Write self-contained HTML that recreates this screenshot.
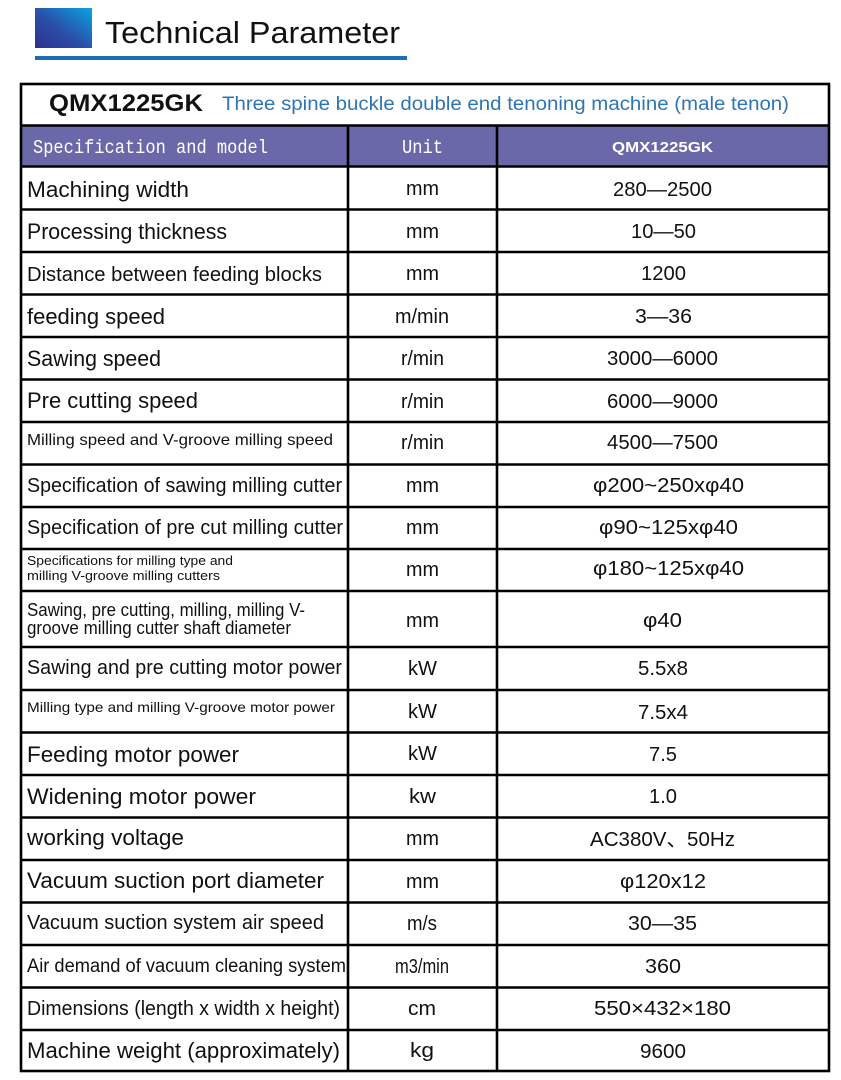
<!DOCTYPE html>
<html>
<head>
<meta charset="utf-8">
<style>
html,body{margin:0;padding:0;background:#fff;}
svg{display:block;}
text{font-family:"Liberation Sans","Noto Sans CJK SC",sans-serif;fill:#111;}
.l{font-size:22px;}
.u{font-size:20px;}
.v{font-size:20px;}
.mono{font-family:"Liberation Mono","Noto Sans CJK SC",monospace;fill:#fff;font-size:19px;}
</style>
</head>
<body>
<svg width="841" height="1080" viewBox="0 0 841 1080" xmlns="http://www.w3.org/2000/svg">
<defs>
<linearGradient id="g" x1="0" y1="1" x2="1" y2="0">
<stop offset="0" stop-color="#2e2f8e"/>
<stop offset="0.45" stop-color="#2a4fa8"/>
<stop offset="1" stop-color="#0aa2e3"/>
</linearGradient>
</defs>
<rect x="0" y="0" width="841" height="1080" fill="#fff"/>
<!-- Title -->
<rect x="35" y="8" width="57" height="40" fill="url(#g)"/>
<text x="105" y="43" font-size="31" textLength="295" lengthAdjust="spacingAndGlyphs">Technical Parameter</text>
<rect x="35" y="56" width="372" height="4" fill="#1b6fb6"/>

<!-- header fill -->
<rect x="21" y="125.5" width="808" height="41" fill="#6b68a9"/>

<!-- table lines -->
<g stroke="#000" stroke-width="2.6" fill="none">
<rect x="21" y="84" width="808" height="987"/>
<line x1="21" y1="125.5" x2="829" y2="125.5"/>
<line x1="21" y1="166.5" x2="829" y2="166.5"/>
<line x1="21" y1="209.5" x2="829" y2="209.5"/>
<line x1="21" y1="252" x2="829" y2="252"/>
<line x1="21" y1="294.5" x2="829" y2="294.5"/>
<line x1="21" y1="337" x2="829" y2="337"/>
<line x1="21" y1="379.5" x2="829" y2="379.5"/>
<line x1="21" y1="422" x2="829" y2="422"/>
<line x1="21" y1="464.5" x2="829" y2="464.5"/>
<line x1="21" y1="507" x2="829" y2="507"/>
<line x1="21" y1="549" x2="829" y2="549"/>
<line x1="21" y1="591" x2="829" y2="591"/>
<line x1="21" y1="647" x2="829" y2="647"/>
<line x1="21" y1="690" x2="829" y2="690"/>
<line x1="21" y1="732.5" x2="829" y2="732.5"/>
<line x1="21" y1="775" x2="829" y2="775"/>
<line x1="21" y1="817.5" x2="829" y2="817.5"/>
<line x1="21" y1="860" x2="829" y2="860"/>
<line x1="21" y1="902.5" x2="829" y2="902.5"/>
<line x1="21" y1="945" x2="829" y2="945"/>
<line x1="21" y1="987.5" x2="829" y2="987.5"/>
<line x1="21" y1="1030" x2="829" y2="1030"/>
<line x1="348" y1="125.5" x2="348" y2="1071"/>
<line x1="497" y1="125.5" x2="497" y2="1071"/>
</g>

<!-- title row -->
<text x="49" y="111" font-size="24" font-weight="bold" textLength="154" lengthAdjust="spacingAndGlyphs">QMX1225GK</text>
<text x="222" y="110" font-size="19" style="fill:#2f75b5" textLength="567" lengthAdjust="spacingAndGlyphs">Three spine buckle double end tenoning machine (male tenon)</text>

<!-- header -->
<text class="mono" x="33" y="153" textLength="235" lengthAdjust="spacingAndGlyphs">Specification and model</text>
<text class="mono" x="402" y="153" textLength="41" lengthAdjust="spacingAndGlyphs">Unit</text>
<text x="612" y="152" font-size="15" font-weight="bold" style="fill:#fff" textLength="101" lengthAdjust="spacingAndGlyphs">QMX1225GK</text>

<!-- left column -->
<text class="l" x="27" y="197" textLength="162" lengthAdjust="spacingAndGlyphs">Machining width</text>
<text class="l" x="27" y="239" textLength="200" lengthAdjust="spacingAndGlyphs">Processing thickness</text>
<text x="27" y="281" font-size="20" textLength="295" lengthAdjust="spacingAndGlyphs">Distance between feeding blocks</text>
<text class="l" x="27" y="324" textLength="138" lengthAdjust="spacingAndGlyphs">feeding speed</text>
<text class="l" x="27" y="366" textLength="134" lengthAdjust="spacingAndGlyphs">Sawing speed</text>
<text class="l" x="27" y="408" textLength="171" lengthAdjust="spacingAndGlyphs">Pre cutting speed</text>
<text x="27" y="445" font-size="16" textLength="306" lengthAdjust="spacingAndGlyphs">Milling speed and V-groove milling speed</text>
<text x="27" y="492" font-size="20" textLength="315" lengthAdjust="spacingAndGlyphs">Specification of sawing milling cutter</text>
<text x="27" y="534" font-size="20" textLength="316" lengthAdjust="spacingAndGlyphs">Specification of pre cut milling cutter</text>
<text x="27" y="565" font-size="13" textLength="206" lengthAdjust="spacingAndGlyphs">Specifications for milling type and</text>
<text x="27" y="580" font-size="13" textLength="193" lengthAdjust="spacingAndGlyphs">milling V-groove milling cutters</text>
<text x="27" y="616" font-size="18" textLength="278" lengthAdjust="spacingAndGlyphs">Sawing, pre cutting, milling, milling V-</text>
<text x="27" y="634" font-size="18" textLength="264" lengthAdjust="spacingAndGlyphs">groove milling cutter shaft diameter</text>
<text x="27" y="674" font-size="20" textLength="315" lengthAdjust="spacingAndGlyphs">Sawing and pre cutting motor power</text>
<text x="27" y="712" font-size="14" textLength="308" lengthAdjust="spacingAndGlyphs">Milling type and milling V-groove motor power</text>
<text class="l" x="27" y="762" textLength="212" lengthAdjust="spacingAndGlyphs">Feeding motor power</text>
<text class="l" x="27" y="804" textLength="229" lengthAdjust="spacingAndGlyphs">Widening motor power</text>
<text class="l" x="27" y="845" textLength="157" lengthAdjust="spacingAndGlyphs">working voltage</text>
<text class="l" x="27" y="888" textLength="297" lengthAdjust="spacingAndGlyphs">Vacuum suction port diameter</text>
<text x="27" y="929" font-size="20" textLength="297" lengthAdjust="spacingAndGlyphs">Vacuum suction system air speed</text>
<text x="27" y="972" font-size="19" textLength="319" lengthAdjust="spacingAndGlyphs">Air demand of vacuum cleaning system</text>
<text x="27" y="1015" font-size="20" textLength="313" lengthAdjust="spacingAndGlyphs">Dimensions (length x width x height)</text>
<text class="l" x="27" y="1058" textLength="313" lengthAdjust="spacingAndGlyphs">Machine weight (approximately)</text>

<!-- units -->
<text class="u" x="406" y="195" textLength="33" lengthAdjust="spacingAndGlyphs">mm</text>
<text class="u" x="406" y="238" textLength="33" lengthAdjust="spacingAndGlyphs">mm</text>
<text class="u" x="406" y="280" textLength="33" lengthAdjust="spacingAndGlyphs">mm</text>
<text class="u" x="395" y="323" textLength="54" lengthAdjust="spacingAndGlyphs">m/min</text>
<text class="u" x="401" y="365" textLength="43" lengthAdjust="spacingAndGlyphs">r/min</text>
<text class="u" x="401" y="408" textLength="43" lengthAdjust="spacingAndGlyphs">r/min</text>
<text class="u" x="401" y="449" textLength="43" lengthAdjust="spacingAndGlyphs">r/min</text>
<text class="u" x="406" y="492" textLength="33" lengthAdjust="spacingAndGlyphs">mm</text>
<text class="u" x="406" y="534" textLength="33" lengthAdjust="spacingAndGlyphs">mm</text>
<text class="u" x="406" y="576" textLength="33" lengthAdjust="spacingAndGlyphs">mm</text>
<text class="u" x="406" y="627" textLength="33" lengthAdjust="spacingAndGlyphs">mm</text>
<text class="u" x="408" y="675" textLength="29" lengthAdjust="spacingAndGlyphs">kW</text>
<text class="u" x="408" y="718" textLength="29" lengthAdjust="spacingAndGlyphs">kW</text>
<text class="u" x="408" y="760" textLength="29" lengthAdjust="spacingAndGlyphs">kW</text>
<text class="u" x="409" y="803" textLength="27" lengthAdjust="spacingAndGlyphs">kw</text>
<text class="u" x="406" y="845" textLength="33" lengthAdjust="spacingAndGlyphs">mm</text>
<text class="u" x="406" y="888" textLength="33" lengthAdjust="spacingAndGlyphs">mm</text>
<text class="u" x="407" y="930" textLength="30" lengthAdjust="spacingAndGlyphs">m/s</text>
<text class="u" x="395" y="973" textLength="54" lengthAdjust="spacingAndGlyphs">m3/min</text>
<text class="u" x="408" y="1015" textLength="28" lengthAdjust="spacingAndGlyphs">cm</text>
<text class="u" x="410" y="1057" textLength="24" lengthAdjust="spacingAndGlyphs">kg</text>

<!-- values -->
<text class="v" x="613" y="196" textLength="99" lengthAdjust="spacingAndGlyphs">280—2500</text>
<text class="v" x="631" y="238" textLength="65" lengthAdjust="spacingAndGlyphs">10—50</text>
<text class="v" x="641" y="280" textLength="45" lengthAdjust="spacingAndGlyphs">1200</text>
<text class="v" x="635" y="323" textLength="57" lengthAdjust="spacingAndGlyphs">3—36</text>
<text class="v" x="607" y="365" textLength="111" lengthAdjust="spacingAndGlyphs">3000—6000</text>
<text class="v" x="607" y="408" textLength="111" lengthAdjust="spacingAndGlyphs">6000—9000</text>
<text class="v" x="607" y="449" textLength="111" lengthAdjust="spacingAndGlyphs">4500—7500</text>
<text class="v" x="593" y="492" textLength="151" lengthAdjust="spacingAndGlyphs">φ200~250xφ40</text>
<text class="v" x="599" y="534" textLength="139" lengthAdjust="spacingAndGlyphs">φ90~125xφ40</text>
<text class="v" x="593" y="575" textLength="151" lengthAdjust="spacingAndGlyphs">φ180~125xφ40</text>
<text class="v" x="643" y="627" textLength="39" lengthAdjust="spacingAndGlyphs">φ40</text>
<text class="v" x="638" y="675" textLength="50" lengthAdjust="spacingAndGlyphs">5.5x8</text>
<text class="v" x="638" y="719" textLength="50" lengthAdjust="spacingAndGlyphs">7.5x4</text>
<text class="v" x="649" y="761" textLength="28" lengthAdjust="spacingAndGlyphs">7.5</text>
<text class="v" x="649" y="803" textLength="28" lengthAdjust="spacingAndGlyphs">1.0</text>
<text class="v" x="590" y="846" textLength="145" lengthAdjust="spacingAndGlyphs">AC380V、50Hz</text>
<text class="v" x="620" y="888" textLength="86" lengthAdjust="spacingAndGlyphs">φ120x12</text>
<text class="v" x="628" y="930" textLength="69" lengthAdjust="spacingAndGlyphs">30—35</text>
<text class="v" x="645" y="973" textLength="36" lengthAdjust="spacingAndGlyphs">360</text>
<text class="v" x="594" y="1015" textLength="137" lengthAdjust="spacingAndGlyphs">550×432×180</text>
<text class="v" x="640" y="1058" textLength="46" lengthAdjust="spacingAndGlyphs">9600</text>
</svg>
</body>
</html>
